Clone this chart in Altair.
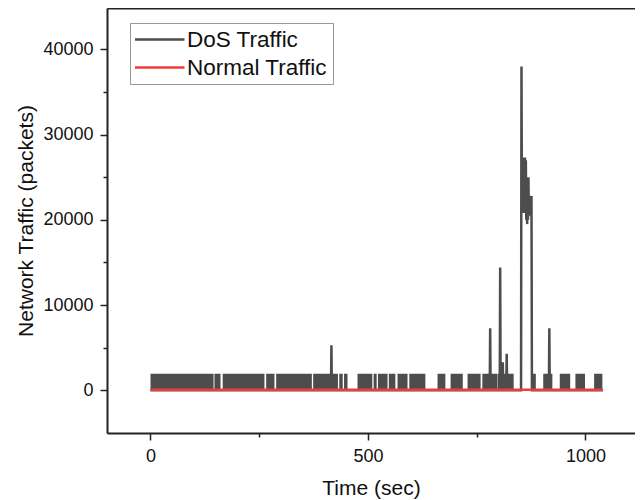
import altair as alt
import pandas as pd

# ---- data ----
# dense on/off DoS traffic periods (seconds) and their level (packets)
band_start = [0, 147, 166, 266, 289, 374, 434, 445, 476, 513, 523, 548, 568, 595,
              660, 690, 729, 763, 799, 879, 903, 941, 977, 1020]
band_end = [145, 161, 262, 285, 371, 431, 442, 453, 510, 520, 545, 563, 591, 632,
            678, 718, 759, 798, 835, 886, 924, 965, 999, 1039]
band_level = 1950

# DoS traffic peaks (seconds, packets)
dos_time = [0, 415, 416, 417, 780, 781, 782, 803, 804, 805, 809, 810, 811, 818, 819, 820,
            852, 853, 854, 855, 856, 857, 858, 859, 860, 861, 862, 863, 864, 865, 866, 867,
            868, 869, 870, 871, 872, 873, 874, 875, 876, 877, 916, 917, 918, 1040]
dos_value = [0, 0, 5300, 0, 0, 7300, 0, 0, 14400, 0, 0, 3300, 0, 0, 4300, 0,
             0, 38000, 21000, 27300, 20800, 27300, 21000, 27300, 20800, 27300, 21000,
             27000, 20000, 25000, 19500, 25000, 20000, 25000, 20500, 22800, 21000, 22800,
             20500, 22500, 22800, 0,
             0, 7300, 0, 0]

normal_time = [0, 260, 520, 780, 1040]
normal_value = [60, 60, 60, 60, 60]

series_names = ["DoS Traffic", "Normal Traffic"]
series_colors = ["#4d4d4d", "#f23a3a"]

x_ticks = [0, 500, 1000]
x_minor = [250, 750]
x_top_ticks = [-5, 234, 473, 710, 949]
y_ticks = [0, 10000, 20000, 30000, 40000]
y_minor = [5000, 15000, 25000, 35000]

# ---- tables ----
bands = pd.DataFrame({"start": band_start, "end": band_end,
                      "low": [0] * len(band_start), "high": [band_level] * len(band_start)})
dos = pd.DataFrame({"time": dos_time, "value": dos_value, "series": series_names[0]})
normal = pd.DataFrame({"time": normal_time, "value": normal_value, "series": series_names[1]})

FONT = "Liberation Sans"
xscale = alt.Scale(domain=[-100, 1114], nice=False, zero=False)
yscale = alt.Scale(domain=[-5000, 44850], nice=False, zero=False)
cscale = alt.Scale(domain=series_names, range=series_colors)
legend = alt.Legend(orient="none", legendX=23, legendY=15, title=None,
                    labelFontSize=22.5, labelFont=FONT, labelColor="#111",
                    symbolType="stroke", symbolSize=2700, symbolStrokeWidth=2.5,
                    symbolOffset=-4, labelOffset=1, strokeColor="#999", fillColor="white",
                    padding=5, rowPadding=5, clipHeight=23)

band_layer = alt.Chart(bands).mark_rect(color=series_colors[0], clip=True).encode(
    x=alt.X("start:Q", scale=xscale,
            axis=alt.Axis(orient="bottom", values=x_ticks, title="Time (sec)",
                          tickSize=7, labelPadding=7, labelFontSize=18,
                          titleFontSize=21, titlePadding=12, format="d")),
    x2="end:Q",
    y=alt.Y("low:Q", scale=yscale,
            axis=alt.Axis(orient="left", values=y_ticks, title="Network Traffic (packets)",
                          tickSize=7, labelPadding=7, labelFontSize=18,
                          titleFontSize=21, titlePadding=6, format="d")),
    y2="high:Q",
)

dos_layer = alt.Chart(dos).mark_line(strokeWidth=2.5, clip=True).encode(
    x=alt.X("time:Q", scale=xscale,
            axis=alt.Axis(orient="top", values=x_top_ticks, labels=False, title=None,
                          tickSize=5)),
    y=alt.Y("value:Q", scale=yscale,
            axis=alt.Axis(orient="left", values=y_minor, labels=False, title=None,
                          domain=False, tickSize=4)),
    color=alt.Color("series:N", scale=cscale, legend=legend),
)

normal_layer = alt.Chart(normal).mark_line(strokeWidth=2.5, clip=True).encode(
    x=alt.X("time:Q", scale=xscale,
            axis=alt.Axis(orient="bottom", values=x_minor, labels=False, title=None,
                          domain=False, tickSize=4)),
    y=alt.Y("value:Q", scale=yscale, axis=None),
    color=alt.Color("series:N", scale=cscale, legend=legend),
)

chart = alt.layer(band_layer, dos_layer, normal_layer).resolve_axis(
    x="independent", y="independent"
).properties(
    width=528, height=425,
    autosize=alt.AutoSizeParams(type="none"),
    padding={"left": 99, "top": 0, "right": 0, "bottom": 67},
).configure_view(stroke=None).configure_axis(
    grid=False, domainColor="#222", domainWidth=2, tickColor="#222", tickWidth=1.5,
    labelFont=FONT, titleFont=FONT, labelColor="#111", titleColor="#111",
    titleFontWeight="normal",
)

chart.save("out.html", embed_options={"renderer": "svg", "actions": False})
